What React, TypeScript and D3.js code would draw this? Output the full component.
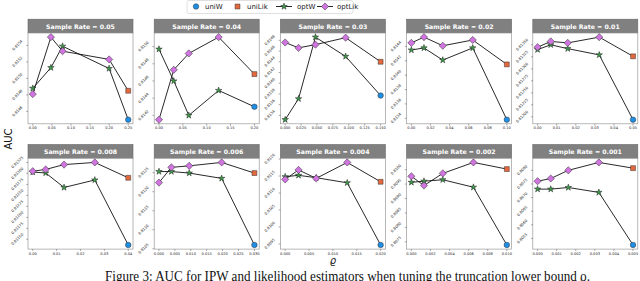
import React from 'react'
import * as d3 from 'd3'

// one entry per facet
const sampleRates = ['0.05', '0.04', '0.03', '0.02', '0.01', '0.008', '0.006', '0.004', '0.002', '0.001']

const rhoGrid = [
  [0, 0.0475, 0.078, 0.2, 0.25],
  [0, 0.031, 0.0625, 0.125, 0.2],
  [0, 0.021, 0.0476, 0.095, 0.15],
  [0, 0.0132, 0.0329, 0.0643, 0.1],
  [0, 0.0069, 0.0158, 0.0323, 0.05],
  [0, 0.0054, 0.0131, 0.026, 0.04],
  [0, 0.0039, 0.0095, 0.0197, 0.03],
  [0, 0.0028, 0.0065, 0.013, 0.02],
  [0, 0.00132, 0.00329, 0.0065, 0.01],
  [0, 0.00069, 0.00161, 0.00321, 0.005]
]

const optWValues = [
  [0.81488, 0.81513, 0.81539, 0.81512],
  [0.81497, 0.8146, 0.8142, 0.81449],
  [0.81332, 0.81371, 0.81486, 0.8145],
  [0.81435, 0.81438, 0.81421, 0.81438],
  [0.8134, 0.8135, 0.81342, 0.81329],
  [0.81303, 0.81301, 0.81268, 0.81285],
  [0.81253, 0.81253, 0.81249, 0.81235],
  [0.81148, 0.81152, 0.81145, 0.8113],
  [0.80956, 0.8096, 0.80965, 0.80939],
  [0.80731, 0.80731, 0.80737, 0.80719]
]

const optLikValues = [
  [0.81481, 0.8155, 0.81533, 0.81523],
  [0.81415, 0.81473, 0.81492, 0.81511],
  [0.81476, 0.81466, 0.81472, 0.81485],
  [0.81445, 0.81453, 0.81441, 0.81449],
  [0.81345, 0.81357, 0.81354, 0.81366],
  [0.81305, 0.81309, 0.8132, 0.81325],
  [0.81224, 0.81264, 0.81268, 0.81277],
  [0.8114, 0.81168, 0.81143, 0.8119],
  [0.80977, 0.80945, 0.80987, 0.81025],
  [0.8076, 0.8077, 0.808, 0.80829]
]

const uniWValues = [0.8145, 0.8143, 0.81377, 0.81338, 0.81194, 0.81137, 0.8106, 0.80947, 0.80739, 0.80526]
const uniLikValues = [0.81485, 0.81468, 0.8144, 0.81415, 0.81326, 0.8129, 0.81249, 0.81133, 0.81002, 0.80808]

const xTickLabels = [
  ['0.00', '0.05', '0.10', '0.15', '0.20', '0.25'],
  ['0.00', '0.05', '0.10', '0.15', '0.20'],
  ['0.000', '0.025', '0.050', '0.075', '0.100', '0.125', '0.150'],
  ['0.00', '0.02', '0.04', '0.06', '0.08', '0.10'],
  ['0.00', '0.01', '0.02', '0.03', '0.04', '0.05'],
  ['0.00', '0.01', '0.02', '0.03', '0.04'],
  ['0.000', '0.005', '0.010', '0.015', '0.020', '0.025', '0.030'],
  ['0.000', '0.005', '0.010', '0.015', '0.020'],
  ['0.000', '0.002', '0.004', '0.006', '0.008', '0.010'],
  ['0.000', '0.001', '0.002', '0.003', '0.004', '0.005']
]

const yTickLabels = [
  ['0.8146', '0.8148', '0.8150', '0.8152', '0.8154'],
  ['0.8142', '0.8144', '0.8146', '0.8148', '0.8150'],
  ['0.8134', '0.8136', '0.8138', '0.8140', '0.8142', '0.8144', '0.8146', '0.8148'],
  ['0.8134', '0.8136', '0.8138', '0.8140', '0.8142', '0.8144', '0.8146'],
  ['0.81200', '0.81225', '0.81250', '0.81275', '0.81300', '0.81325', '0.81350'],
  ['0.81150', '0.81175', '0.81200', '0.81225', '0.81250', '0.81275', '0.81300', '0.81325'],
  ['0.8105', '0.8110', '0.8115', '0.8120', '0.8125'],
  ['0.8095', '0.8100', '0.8105', '0.8110', '0.8115', '0.8120'],
  ['0.8075', '0.8080', '0.8085', '0.8090', '0.8095', '0.8100'],
  ['0.8055', '0.8060', '0.8065', '0.8070', '0.8075', '0.8080']
]

const colors = {
  uniW: '#1f8fe6',
  uniLik: '#e4683d',
  optW: '#3d9a4a',
  optLik: '#d074e0'
}

const W = 640
const H = 281
const font = 'DejaVu Sans, sans-serif'

const starPath = d3.symbol(d3.symbolStar, 13)()
const squarePath = d3.symbol(d3.symbolSquare, 24)()
const diamondPath = d3.symbol(d3.symbolSquare, 26)()
const circlePath = d3.symbol(d3.symbolCircle, 24)()

function pad (ext: [number, number]): [number, number] {
  const m = (ext[1] - ext[0]) * 0.05
  return [ext[0] - m, ext[1] + m]
}

function Panel ({ i }: { i: number }) {
  const col = i % 5
  const row = Math.floor(i / 5)
  const left = 28 + col * 126.2
  const width = 105
  const top = row === 0 ? 33 : 158.3
  const height = 90.8
  const headH = 13.8

  const rho = rhoGrid[i]
  const w = optWValues[i].concat([uniWValues[i]])
  const lik = optLikValues[i].concat([uniLikValues[i]])
  const all = w.concat(lik)

  const x = d3.scaleLinear().domain(pad([0, rho[4]])).range([left, left + width])
  const y = d3.scaleLinear().domain(pad(d3.extent(all) as [number, number])).range([top + height, top])
  const [y0, y1] = y.domain()

  const line = d3.line<number>().x((_, j) => x(rho[j])).y(d => y(d))

  return (
    <g>
      <rect x={left} y={top - headH} width={width} height={headH} fill='#808080' stroke='#666' strokeWidth={0.6} />
      <text x={left + width / 2} y={top - headH / 2} fill='#fff' fontFamily={font} fontWeight='bold' fontSize={6.2}
        textAnchor='middle' dominantBaseline='central'>Sample Rate = {sampleRates[i]}</text>
      <rect x={left} y={top} width={width} height={height} fill='#fff' stroke='#999' strokeWidth={0.7} />

      {xTickLabels[i].map(t => {
        const xv = x(+t)
        return (
          <g key={t}>
            <line x1={xv} x2={xv} y1={top + height} y2={top + height + 1.8} stroke='#555' strokeWidth={0.5} />
            <text x={xv} y={top + height + 5.6} fontFamily={font} fontSize={3.6} textAnchor='middle' fill='#222'>{t}</text>
          </g>
        )
      })}

      {yTickLabels[i].filter(t => +t >= y0 && +t <= y1).map(t => {
        const yv = y(+t)
        return (
          <g key={t}>
            <line x1={left - 1.8} x2={left} y1={yv} y2={yv} stroke='#555' strokeWidth={0.5} />
            <text transform={`translate(${left - 10.5},${yv}) rotate(-45)`} fontFamily={font} fontSize={3.7}
              textAnchor='middle' dominantBaseline='central' fill='#222'>{t}</text>
          </g>
        )
      })}

      <path d={line(w) || ''} fill='none' stroke='#111' strokeWidth={0.9} />
      <path d={line(lik) || ''} fill='none' stroke='#111' strokeWidth={0.9} />

      {optWValues[i].map((v, j) => (
        <path key={'w' + j} d={starPath || ''} transform={`translate(${x(rho[j])},${y(v)})`}
          fill={colors.optW} stroke='#222' strokeWidth={0.5} />
      ))}
      {optLikValues[i].map((v, j) => (
        <path key={'l' + j} d={diamondPath || ''} transform={`translate(${x(rho[j])},${y(v)}) rotate(45)`}
          fill={colors.optLik} stroke='#333' strokeWidth={0.5} />
      ))}
      <path d={squarePath || ''} transform={`translate(${x(rho[4])},${y(uniLikValues[i])})`}
        fill={colors.uniLik} stroke='#333' strokeWidth={0.5} />
      <path d={circlePath || ''} transform={`translate(${x(rho[4])},${y(uniWValues[i])})`}
        fill={colors.uniW} stroke='#333' strokeWidth={0.5} />
    </g>
  )
}

function Legend () {
  const ly = 6.5
  return (
    <g fontFamily={font} fontSize={7} fill='#222'>
      <rect x={187} y={0.5} width={166} height={13} rx={2} fill='#fff' stroke='#d8d8d8' strokeWidth={0.8} />
      <path d={circlePath || ''} transform={`translate(196,${ly})`} fill={colors.uniW} stroke='#333' strokeWidth={0.5} />
      <text x={205} y={ly} dominantBaseline='central'>uniW</text>
      <path d={squarePath || ''} transform={`translate(237.5,${ly})`} fill={colors.uniLik} stroke='#333' strokeWidth={0.5} />
      <text x={247} y={ly} dominantBaseline='central'>uniLik</text>
      <line x1={276} x2={292} y1={ly} y2={ly} stroke='#111' strokeWidth={0.9} />
      <path d={starPath || ''} transform={`translate(284,${ly})`} fill={colors.optW} stroke='#222' strokeWidth={0.5} />
      <text x={297} y={ly} dominantBaseline='central'>optW</text>
      <line x1={317} x2={333} y1={ly} y2={ly} stroke='#111' strokeWidth={0.9} />
      <path d={diamondPath || ''} transform={`translate(325,${ly}) rotate(45)`} fill={colors.optLik} stroke='#333' strokeWidth={0.5} />
      <text x={337} y={ly} dominantBaseline='central'>optLik</text>
    </g>
  )
}

export default function App () {
  return (
    <div style={{ position: 'fixed', left: 0, top: 0 }}>
      <svg width={W} height={H} viewBox={`0 0 ${W} ${H}`} style={{ display: 'block', background: '#fff' }}>
        <rect width={W} height={H} fill='#fff' />
        {sampleRates.map((_, i) => <Panel key={i} i={i} />)}
        <Legend />
        <text transform='translate(8.5,139) rotate(-90)' fontFamily={font} fontSize={10} textAnchor='middle'
          dominantBaseline='central' fill='#111'>AUC</text>
        <text x={333} y={260.5} fontFamily={font} fontStyle='italic' fontSize={10} textAnchor='middle'
          dominantBaseline='central' fill='#111'>ϱ</text>
        <text x={105} y={280.5} fontFamily='Liberation Serif, Times New Roman, serif' fontSize={15.5} fill='#111'
          textLength={485} lengthAdjust='spacingAndGlyphs'>Figure 3: AUC for IPW and likelihood estimators when tuning the truncation lower bound ϱ.</text>
      </svg>
    </div>
  )
}
